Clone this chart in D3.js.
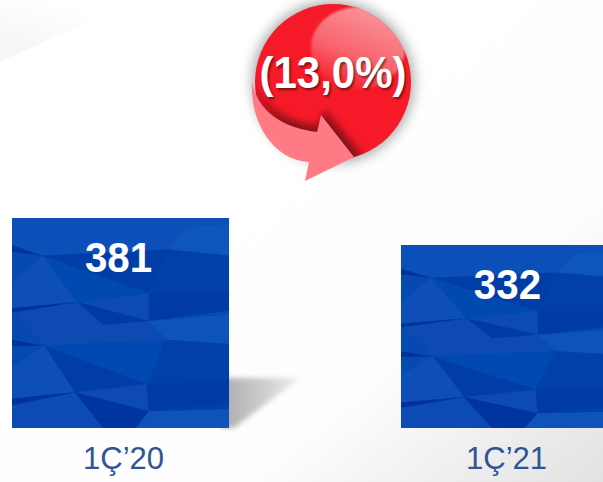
<!DOCTYPE html>
<html><head><meta charset="utf-8">
<script src="https://cdn.jsdelivr.net/npm/d3@7"></script>
<style>html,body{margin:0;padding:0;background:#fff;overflow:hidden}svg{display:block}text{font-family:"Liberation Sans",Arial,sans-serif}</style>
</head><body><div id="c"></div>
<script>
const categories = ["1Ç’20", "1Ç’21"];
const values = [381, 332];
const changeLabel = "(13,0%)";

const W = 603, H = 482;
const svg = d3.select("#c").append("svg").attr("width", W).attr("height", H);
const defs = svg.append("defs");

function lin(id, x1, y1, x2, y2, stops) {
  const g = defs.append("linearGradient").attr("id", id)
    .attr("x1", x1).attr("y1", y1).attr("x2", x2).attr("y2", y2);
  stops.forEach(s => g.append("stop").attr("offset", s[0]).attr("stop-color", s[1]).attr("stop-opacity", s[2] === undefined ? 1 : s[2]));
}
function blur(id, s) {
  defs.append("filter").attr("id", id).attr("x", "-40%").attr("y", "-40%").attr("width", "180%").attr("height", "180%")
    .append("feGaussianBlur").attr("stdDeviation", s);
}
lin("bg", 0.35, 0.35, 1, 1, [[0, "#fff"], [0.55, "#fdfdfd"], [1, "#e2e2e2"]]);
lin("sliver", 0, 0.6, 0.35, 0, [[0, "#f7f7f7"], [1, "#fff"]]);
lin("shadow", 0, 0, 1, 0, [[0, "#adadad"], [0.6, "#d2d2d2"], [1, "#f0f0f0"]]);
lin("gloss", 0.75, 0, 0.3, 1, [[0, "#fff", 0.55], [0.6, "#fff", 0.32], [1, "#fff", 0]]);
blur("b1", 0.6); blur("b2", 7); blur("b3", 2.8); blur("b4", 3.5); blur("b5", 1.2);

// background
svg.append("rect").attr("width", W).attr("height", H).attr("fill", "url(#bg)");
svg.append("path").attr("d", "M0,0H135L0,62Z").attr("fill", "url(#sliver)");

// scales and axis
const x = d3.scaleBand().domain(categories).range([12, 618]).paddingInner(0.442).paddingOuter(0);
const y = d3.scaleLinear().domain([0, 381]).range([428, 218]);
const labelX = d3.scalePoint().domain(categories).range([123, 506]);

// floor shadow of the first column
svg.append("path")
  .attr("d", "M222,378H300L234,428L222,428Z")
  .attr("fill", "url(#shadow)").attr("filter", "url(#b3)");

// facet texture, in units of one column
const facets = [
  ["#0850b8", "0,0 1,0 1,.18 .72,.15 .14,.18 0,.14"],
  ["#0a56bc", ".72,.15 .8,.05 1,.03 1,.18"],
  ["#0340a8", ".72,.15 1,.18 1,.44 .63,.49 .63,.36"],
  ["#033aa4", ".63,.36 1,.36 1,.44 .63,.49"],
  ["#033ca6", ".14,.18 .72,.15 .63,.36"],
  ["#0648b0", ".14,.19 .63,.36 .3,.40"],
  ["#084fb6", ".14,.18 .3,.40 0,.43 0,.31"],
  ["#074cb4", ".3,.40 .63,.36 .63,.49"],
  ["#033aa4", ".3,.40 .63,.49 .42,.51"],
  ["#074cb3", "0,.44 .3,.40 .42,.51 .63,.49 .71,.58 .15,.61"],
  ["#0952b8", ".63,.49 1,.46 1,.6 .71,.58"],
  ["#0649b2", ".15,.61 .71,.58 .62,.79"],
  ["#033ca6", ".15,.61 .62,.79 .29,.83"],
  ["#0950b7", "0,.71 .15,.61 .29,.83 0,.86"],
  ["#0340a8", ".71,.58 1,.6 1,.92 .63,.92 .62,.79"],
  ["#033aa4", ".62,.79 1,.78 1,.88 .63,.92"],
  ["#074bb3", ".29,.83 .62,.79 .63,.92"],
  ["#074cb4", "0,.88 .29,.83 .42,1 0,1"],
  ["#0334a0", ".29,.83 .63,.92 .57,1 .42,1"],
  ["#0952b8", ".63,.92 1,.91 1,1 .57,1"],
  ["#03309c", "0,.58 .15,.61 0,.61"],
  ["#03309c", "0,.13 .14,.18 0,.16"],
  ["#03309c", "0,.43 .3,.40 0,.45"],
  ["#03309c", "0,.86 .29,.83 0,.89"]
];

const bars = svg.append("g").selectAll("g").data(values).join("g")
  .attr("transform", (d, i) => `translate(${x(categories[i])},${y(d)})`);
bars.each(function (d, i) {
  const w = x.bandwidth(), h = y(0) - y(d), g = d3.select(this);
  defs.append("clipPath").attr("id", "barclip" + i).append("rect").attr("width", w).attr("height", h);
  g.append("rect").attr("width", w).attr("height", h).attr("fill", "#0649b0");
  g.append("g").attr("clip-path", `url(#barclip${i})`).append("g").attr("filter", "url(#b1)")
    .selectAll("polygon").data(facets).join("polygon")
    .attr("fill", f => f[0])
    .attr("points", f => f[1].split(" ").map(p => { const q = p.split(","); return (q[0] * w) + "," + (q[1] * h); }).join(" "));
});

// value labels
svg.append("g").selectAll("text").data(values).join("text")
  .attr("transform", (d, i) => `translate(${x(categories[i]) + x.bandwidth() / 2 - 2},${y(d) + 54}) scale(0.96,1)`)
  .attr("text-anchor", "middle").attr("font-size", 42).attr("font-weight", 700).attr("fill", "#fff")
  .text(d => d);

// category axis
const axis = svg.append("g").attr("transform", "translate(0,428)")
  .call(d3.axisBottom(labelX).tickSize(0).tickPadding(19));
axis.select(".domain").remove();
axis.selectAll("text").attr("font-size", 31).attr("fill", "#2f5597").attr("font-family", "Liberation Sans");

// change bubble
const cx = 333, cy = 82, r = 78;
const bubble = svg.append("g");
bubble.append("circle").attr("cx", cx).attr("cy", cy).attr("r", r + 2).attr("fill", "#000").attr("opacity", 0.38).attr("filter", "url(#b2)");
bubble.append("circle").attr("cx", cx).attr("cy", cy).attr("r", r).attr("fill", "#f61a28");
defs.append("clipPath").attr("id", "disc").append("circle").attr("cx", cx).attr("cy", cy).attr("r", r);
const inner = bubble.append("g").attr("clip-path", "url(#disc)");
inner.append("ellipse").attr("cx", 358).attr("cy", 48).attr("rx", 47).attr("ry", 41).attr("fill", "url(#gloss)").attr("filter", "url(#b5)");
inner.append("path").attr("d", "M250,78C262,106 285,122 318,126L325,110L362,155L350,165C300,150 270,125 250,82Z")
  .attr("fill", "#5a0a12").attr("opacity", 0.7).attr("filter", "url(#b4)");
const arrow = "M252,82C258,112 283,128 317,132L321,115L354,157L305,181L309,162C275,160 250,125 252,82Z";
bubble.append("path").attr("d", arrow).attr("fill", "#ff7a84");

const labelTf = `translate(${cx},88) scale(1,1.06)`;
svg.append("text").attr("transform", `translate(1.5,1.5) ${labelTf}`).attr("text-anchor", "middle").attr("font-size", 42).attr("font-weight", 700)
  .attr("fill", "#000").attr("opacity", 0.5).attr("filter", "url(#b5)").text(changeLabel);
svg.append("text").attr("transform", labelTf).attr("text-anchor", "middle").attr("font-size", 42).attr("font-weight", 700)
  .attr("fill", "#fff").text(changeLabel);
</script></body></html>
